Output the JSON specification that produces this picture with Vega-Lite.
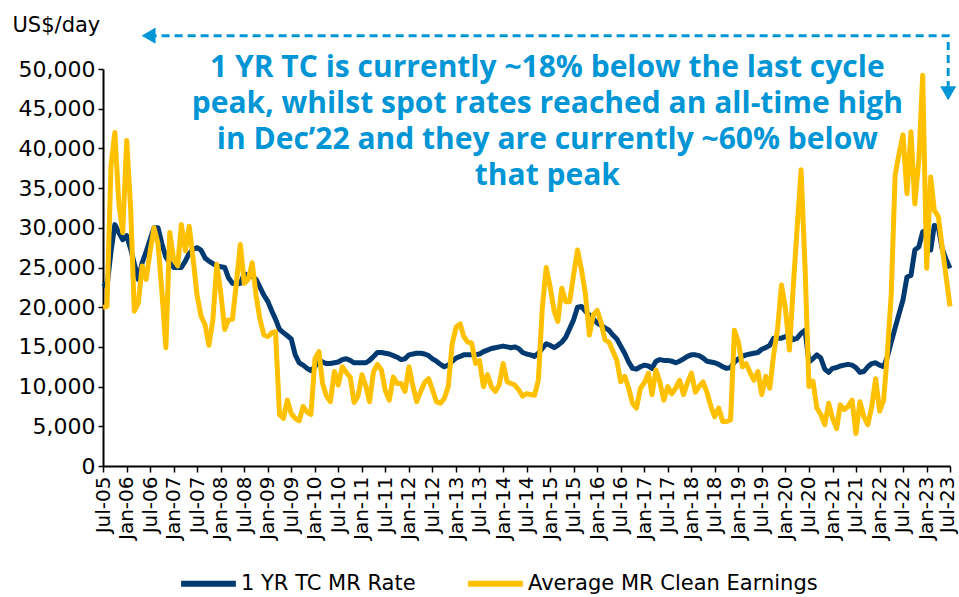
{
  "$schema": "https://vega.github.io/schema/vega-lite/v6.json",
  "autosize": {"type": "none"},
  "padding": {"left": 103, "top": 69, "right": 9, "bottom": 131},
  "width": 847,
  "height": 397,
  "background": "white",
  "config": {"view": {"stroke": null}, "font": "DejaVu Sans"},
  "datasets": {
    "rates": [
      {"d":"2005-07-01","tc":23000,"ce":20000},{"d":"2005-08-01","tc":22600,"ce":20100},{"d":"2005-09-01","tc":27000,"ce":37800},{"d":"2005-10-01","tc":30400,"ce":42000},{"d":"2005-11-01","tc":29400,"ce":33000},{"d":"2005-12-01","tc":28500,"ce":29400},
      {"d":"2006-01-01","tc":29000,"ce":41000},{"d":"2006-02-01","tc":27300,"ce":32300},{"d":"2006-03-01","tc":25500,"ce":19500},{"d":"2006-04-01","tc":23500,"ce":20500},{"d":"2006-05-01","tc":25600,"ce":25200},{"d":"2006-06-01","tc":27000,"ce":23500},
      {"d":"2006-07-01","tc":28500,"ce":27000},{"d":"2006-08-01","tc":30000,"ce":30000},{"d":"2006-09-01","tc":30000,"ce":28000},{"d":"2006-10-01","tc":28000,"ce":22000},{"d":"2006-11-01","tc":26300,"ce":14900},{"d":"2006-12-01","tc":25600,"ce":29400},
      {"d":"2007-01-01","tc":25000,"ce":26000},{"d":"2007-02-01","tc":25000,"ce":25200},{"d":"2007-03-01","tc":25000,"ce":30400},{"d":"2007-04-01","tc":25800,"ce":27100},{"d":"2007-05-01","tc":26800,"ce":30200},{"d":"2007-06-01","tc":27300,"ce":26000},
      {"d":"2007-07-01","tc":27500,"ce":21500},{"d":"2007-08-01","tc":27200,"ce":18900},{"d":"2007-09-01","tc":26200,"ce":17800},{"d":"2007-10-01","tc":25800,"ce":15200},{"d":"2007-11-01","tc":25500,"ce":18400},{"d":"2007-12-01","tc":25200,"ce":25400},
      {"d":"2008-01-01","tc":25100,"ce":21800},{"d":"2008-02-01","tc":25000,"ce":17200},{"d":"2008-03-01","tc":23700,"ce":18400},{"d":"2008-04-01","tc":23000,"ce":18500},{"d":"2008-05-01","tc":22900,"ce":23000},{"d":"2008-06-01","tc":23000,"ce":27900},
      {"d":"2008-07-01","tc":24200,"ce":23000},{"d":"2008-08-01","tc":24000,"ce":23500},{"d":"2008-09-01","tc":23900,"ce":25600},{"d":"2008-10-01","tc":23500,"ce":21500},{"d":"2008-11-01","tc":22500,"ce":18400},{"d":"2008-12-01","tc":21500,"ce":16500},
      {"d":"2009-01-01","tc":20700,"ce":16300},{"d":"2009-02-01","tc":19500,"ce":16800},{"d":"2009-03-01","tc":18500,"ce":16900},{"d":"2009-04-01","tc":17200,"ce":6500},{"d":"2009-05-01","tc":16800,"ce":6000},{"d":"2009-06-01","tc":16400,"ce":8300},
      {"d":"2009-07-01","tc":16000,"ce":6600},{"d":"2009-08-01","tc":14000,"ce":6000},{"d":"2009-09-01","tc":13000,"ce":5700},{"d":"2009-10-01","tc":12700,"ce":7500},{"d":"2009-11-01","tc":12300,"ce":6800},{"d":"2009-12-01","tc":12000,"ce":6500},
      {"d":"2010-01-01","tc":12500,"ce":13500},{"d":"2010-02-01","tc":13400,"ce":14400},{"d":"2010-03-01","tc":13100,"ce":10400},{"d":"2010-04-01","tc":12900,"ce":8800},{"d":"2010-05-01","tc":12900,"ce":8100},{"d":"2010-06-01","tc":13000,"ce":11900},
      {"d":"2010-07-01","tc":13100,"ce":10200},{"d":"2010-08-01","tc":13400,"ce":12500},{"d":"2010-09-01","tc":13500,"ce":11800},{"d":"2010-10-01","tc":13300,"ce":11200},{"d":"2010-11-01","tc":13000,"ce":8000},{"d":"2010-12-01","tc":13000,"ce":8800},
      {"d":"2011-01-01","tc":13000,"ce":11500},{"d":"2011-02-01","tc":13000,"ce":10000},{"d":"2011-03-01","tc":13300,"ce":8100},{"d":"2011-04-01","tc":13800,"ce":11900},{"d":"2011-05-01","tc":14300,"ce":12800},{"d":"2011-06-01","tc":14300,"ce":12100},
      {"d":"2011-07-01","tc":14200,"ce":9500},{"d":"2011-08-01","tc":14100,"ce":8300},{"d":"2011-09-01","tc":13900,"ce":11200},{"d":"2011-10-01","tc":13700,"ce":10400},{"d":"2011-11-01","tc":13400,"ce":10400},{"d":"2011-12-01","tc":13500,"ce":9400},
      {"d":"2012-01-01","tc":14000,"ce":12500},{"d":"2012-02-01","tc":14100,"ce":10000},{"d":"2012-03-01","tc":14200,"ce":8100},{"d":"2012-04-01","tc":14200,"ce":9400},{"d":"2012-05-01","tc":14100,"ce":10500},{"d":"2012-06-01","tc":13900,"ce":11000},
      {"d":"2012-07-01","tc":13500,"ce":9600},{"d":"2012-08-01","tc":13200,"ce":8100},{"d":"2012-09-01","tc":12800,"ce":7900},{"d":"2012-10-01","tc":12500,"ce":8500},{"d":"2012-11-01","tc":12700,"ce":10000},{"d":"2012-12-01","tc":13200,"ce":15400},
      {"d":"2013-01-01","tc":13600,"ce":17500},{"d":"2013-02-01","tc":13800,"ce":17900},{"d":"2013-03-01","tc":14000,"ce":16300},{"d":"2013-04-01","tc":14000,"ce":15600},{"d":"2013-05-01","tc":14000,"ce":15500},{"d":"2013-06-01","tc":14000,"ce":12900},
      {"d":"2013-07-01","tc":14100,"ce":13300},{"d":"2013-08-01","tc":14400,"ce":10000},{"d":"2013-09-01","tc":14600,"ce":11500},{"d":"2013-10-01","tc":14800,"ce":10000},{"d":"2013-11-01","tc":14900,"ce":9400},{"d":"2013-12-01","tc":15000,"ce":10200},
      {"d":"2014-01-01","tc":15100,"ce":12900},{"d":"2014-02-01","tc":15000,"ce":10600},{"d":"2014-03-01","tc":14900,"ce":10400},{"d":"2014-04-01","tc":15000,"ce":10200},{"d":"2014-05-01","tc":14800,"ce":9600},{"d":"2014-06-01","tc":14300,"ce":8800},
      {"d":"2014-07-01","tc":14100,"ce":9100},{"d":"2014-08-01","tc":14000,"ce":9000},{"d":"2014-09-01","tc":13800,"ce":8900},{"d":"2014-10-01","tc":14200,"ce":10800},{"d":"2014-11-01","tc":14800,"ce":20000},{"d":"2014-12-01","tc":15400,"ce":25000},
      {"d":"2015-01-01","tc":15200,"ce":22500},{"d":"2015-02-01","tc":14900,"ce":19500},{"d":"2015-03-01","tc":15200,"ce":18200},{"d":"2015-04-01","tc":15600,"ce":22400},{"d":"2015-05-01","tc":16200,"ce":20700},{"d":"2015-06-01","tc":17300,"ce":20700},
      {"d":"2015-07-01","tc":18400,"ce":24000},{"d":"2015-08-01","tc":20000,"ce":27200},{"d":"2015-09-01","tc":20100,"ce":24700},{"d":"2015-10-01","tc":19500,"ce":21700},{"d":"2015-11-01","tc":19000,"ce":16500},{"d":"2015-12-01","tc":18500,"ce":19000},
      {"d":"2016-01-01","tc":18000,"ce":19600},{"d":"2016-02-01","tc":17700,"ce":18000},{"d":"2016-03-01","tc":17400,"ce":15900},{"d":"2016-04-01","tc":17100,"ce":15600},{"d":"2016-05-01","tc":16500,"ce":14500},{"d":"2016-06-01","tc":16000,"ce":13300},
      {"d":"2016-07-01","tc":15100,"ce":10600},{"d":"2016-08-01","tc":14200,"ce":11300},{"d":"2016-09-01","tc":13100,"ce":9800},{"d":"2016-10-01","tc":12300,"ce":7900},{"d":"2016-11-01","tc":12200,"ce":7300},{"d":"2016-12-01","tc":12500,"ce":9800},
      {"d":"2017-01-01","tc":12700,"ce":10500},{"d":"2017-02-01","tc":12600,"ce":11700},{"d":"2017-03-01","tc":12300,"ce":9000},{"d":"2017-04-01","tc":13200,"ce":12100},{"d":"2017-05-01","tc":13400,"ce":10600},{"d":"2017-06-01","tc":13300,"ce":8300},
      {"d":"2017-07-01","tc":13300,"ce":10000},{"d":"2017-08-01","tc":13200,"ce":9100},{"d":"2017-09-01","tc":13000,"ce":9800},{"d":"2017-10-01","tc":13200,"ce":10800},{"d":"2017-11-01","tc":13500,"ce":9000},{"d":"2017-12-01","tc":13800,"ce":10500},
      {"d":"2018-01-01","tc":14000,"ce":11700},{"d":"2018-02-01","tc":14000,"ce":9300},{"d":"2018-03-01","tc":13900,"ce":10000},{"d":"2018-04-01","tc":13600,"ce":10600},{"d":"2018-05-01","tc":13200,"ce":9300},{"d":"2018-06-01","tc":13100,"ce":7500},
      {"d":"2018-07-01","tc":13000,"ce":6200},{"d":"2018-08-01","tc":12800,"ce":7300},{"d":"2018-09-01","tc":12500,"ce":5600},{"d":"2018-10-01","tc":12300,"ce":5600},{"d":"2018-11-01","tc":12400,"ce":5800},{"d":"2018-12-01","tc":13100,"ce":17100},
      {"d":"2019-01-01","tc":13500,"ce":15600},{"d":"2019-02-01","tc":13800,"ce":12500},{"d":"2019-03-01","tc":14000,"ce":12900},{"d":"2019-04-01","tc":14100,"ce":11800},{"d":"2019-05-01","tc":14200,"ce":10800},{"d":"2019-06-01","tc":14300,"ce":11900},
      {"d":"2019-07-01","tc":14700,"ce":9000},{"d":"2019-08-01","tc":14900,"ce":11300},{"d":"2019-09-01","tc":15200,"ce":9800},{"d":"2019-10-01","tc":16100,"ce":14000},{"d":"2019-11-01","tc":16100,"ce":17300},{"d":"2019-12-01","tc":16100,"ce":22800},
      {"d":"2020-01-01","tc":16300,"ce":19800},{"d":"2020-02-01","tc":16500,"ce":14600},{"d":"2020-03-01","tc":15900,"ce":22500},{"d":"2020-04-01","tc":16100,"ce":30000},{"d":"2020-05-01","tc":16700,"ce":37300},{"d":"2020-06-01","tc":17100,"ce":25000},
      {"d":"2020-07-01","tc":13100,"ce":10000},{"d":"2020-08-01","tc":13500,"ce":10700},{"d":"2020-09-01","tc":14000,"ce":7300},{"d":"2020-10-01","tc":13600,"ce":6500},{"d":"2020-11-01","tc":12200,"ce":5200},{"d":"2020-12-01","tc":11800,"ce":7900},
      {"d":"2021-01-01","tc":12300,"ce":6000},{"d":"2021-02-01","tc":12400,"ce":4700},{"d":"2021-03-01","tc":12600,"ce":7700},{"d":"2021-04-01","tc":12700,"ce":7100},{"d":"2021-05-01","tc":12800,"ce":7500},{"d":"2021-06-01","tc":12700,"ce":8300},
      {"d":"2021-07-01","tc":12400,"ce":4100},{"d":"2021-08-01","tc":11800,"ce":8100},{"d":"2021-09-01","tc":11900,"ce":6200},{"d":"2021-10-01","tc":12500,"ce":5200},{"d":"2021-11-01","tc":12900,"ce":7500},{"d":"2021-12-01","tc":13000,"ce":11000},
      {"d":"2022-01-01","tc":12700,"ce":6900},{"d":"2022-02-01","tc":12500,"ce":8300},{"d":"2022-03-01","tc":13700,"ce":14000},{"d":"2022-04-01","tc":15600,"ce":21700},{"d":"2022-05-01","tc":17400,"ce":36600},{"d":"2022-06-01","tc":19200,"ce":39400},
      {"d":"2022-07-01","tc":20900,"ce":41700},{"d":"2022-08-01","tc":23800,"ce":34300},{"d":"2022-09-01","tc":24000,"ce":42100},{"d":"2022-10-01","tc":27200,"ce":33000},{"d":"2022-11-01","tc":27600,"ce":38500},{"d":"2022-12-01","tc":29500,"ce":49200},
      {"d":"2023-01-01","tc":29700,"ce":24900},{"d":"2023-02-01","tc":27200,"ce":36400},{"d":"2023-03-01","tc":30300,"ce":32200},{"d":"2023-04-01","tc":30100,"ce":31400},{"d":"2023-05-01","tc":27400,"ce":27600},{"d":"2023-06-01","tc":26000,"ce":23800},
      {"d":"2023-07-01","tc":24900,"ce":20100}
    ],
    "arrow": [
      {"k": 0, "d": "2006-06-20", "v": 54200},
      {"k": 1, "d": "2023-06-17", "v": 54200},
      {"k": 2, "d": "2023-06-17", "v": 47300}
    ],
    "headLeft": [{"d": "2006-06-20", "v": 54200}],
    "headDown": [{"d": "2023-06-17", "v": 46950}],
    "note": [
      {"d": "2014-12-10", "v": 49000, "t": "1 YR TC is currently ~18% below the last cycle\npeak, whilst spot rates reached an all-time high\nin Dec’22 and they are currently ~60% below\nthat peak"}
    ]
  },
  "encoding": {
    "x": {
      "field": "d", "type": "temporal",
      "scale": {"type": "utc", "domain": [{"year": 2005, "month": 7, "date": 1, "utc": true}, {"year": 2023, "month": 7, "date": 1, "utc": true}], "nice": false},
      "axis": {
        "title": null,
        "labelExpr": "utcFormat(datum.value, '%b-%y')",
        "values": [
          {"year":2005,"month":7,"date":1,"utc":true},{"year":2006,"month":1,"date":1,"utc":true},{"year":2006,"month":7,"date":1,"utc":true},
          {"year":2007,"month":1,"date":1,"utc":true},{"year":2007,"month":7,"date":1,"utc":true},{"year":2008,"month":1,"date":1,"utc":true},
          {"year":2008,"month":7,"date":1,"utc":true},{"year":2009,"month":1,"date":1,"utc":true},{"year":2009,"month":7,"date":1,"utc":true},
          {"year":2010,"month":1,"date":1,"utc":true},{"year":2010,"month":7,"date":1,"utc":true},{"year":2011,"month":1,"date":1,"utc":true},
          {"year":2011,"month":7,"date":1,"utc":true},{"year":2012,"month":1,"date":1,"utc":true},{"year":2012,"month":7,"date":1,"utc":true},
          {"year":2013,"month":1,"date":1,"utc":true},{"year":2013,"month":7,"date":1,"utc":true},{"year":2014,"month":1,"date":1,"utc":true},
          {"year":2014,"month":7,"date":1,"utc":true},{"year":2015,"month":1,"date":1,"utc":true},{"year":2015,"month":7,"date":1,"utc":true},
          {"year":2016,"month":1,"date":1,"utc":true},{"year":2016,"month":7,"date":1,"utc":true},{"year":2017,"month":1,"date":1,"utc":true},
          {"year":2017,"month":7,"date":1,"utc":true},{"year":2018,"month":1,"date":1,"utc":true},{"year":2018,"month":7,"date":1,"utc":true},
          {"year":2019,"month":1,"date":1,"utc":true},{"year":2019,"month":7,"date":1,"utc":true},{"year":2020,"month":1,"date":1,"utc":true},
          {"year":2020,"month":7,"date":1,"utc":true},{"year":2021,"month":1,"date":1,"utc":true},{"year":2021,"month":7,"date":1,"utc":true},
          {"year":2022,"month":1,"date":1,"utc":true},{"year":2022,"month":7,"date":1,"utc":true},{"year":2023,"month":1,"date":1,"utc":true},
          {"year":2023,"month":7,"date":1,"utc":true}
        ],
        "labelAngle": -90,
        "labelAlign": "right",
        "labelBaseline": "middle",
        "labelOffset": {"condition": {"test": "datum.index > 0.99", "value": -3}, "value": 0},
        "labelFont": "DejaVu Sans",
        "labelFontSize": 20,
        "labelColor": "#000000",
        "labelPadding": 4,
        "labelOverlap": false,
        "labelFlush": false,
        "grid": false,
        "domainColor": "#000000",
        "domainWidth": 2,
        "tickColor": "#000000",
        "tickWidth": 1.5,
        "tickSize": 6
      }
    },
    "y": {
      "field": "v", "type": "quantitative",
      "scale": {"domain": [0, 50000], "nice": false, "zero": true},
      "axis": {
        "title": "US$/day",
        "titleAngle": 0,
        "titleAlign": "left",
        "titleBaseline": "middle",
        "titleX": -91,
        "titleY": -44,
        "titleFont": "DejaVu Sans",
        "titleFontSize": 21,
        "titleFontWeight": "normal",
        "titleColor": "#000000",
        "values": [0, 5000, 10000, 15000, 20000, 25000, 30000, 35000, 40000, 45000, 50000],
        "labelExpr": "format(datum.value, ',.0f')",
        "labelFont": "DejaVu Sans",
        "labelFontSize": 22,
        "labelColor": "#000000",
        "labelPadding": 3,
        "grid": false,
        "domainColor": "#000000",
        "domainWidth": 2,
        "tickColor": "#000000",
        "tickWidth": 1.5,
        "tickSize": 5
      }
    }
  },
  "layer": [
    {
      "data": {"name": "rates"},
      "transform": [{"fold": ["tc", "ce"], "as": ["s", "v"]}],
      "mark": {"type": "line", "strokeWidth": 5, "strokeJoin": "round", "clip": false},
      "encoding": {
        "color": {
          "field": "s", "type": "nominal",
          "scale": {"domain": ["tc", "ce"], "range": ["#003A70", "#FFC000"]},
          "legend": {
            "title": null,
            "orient": "none",
            "legendX": 75,
            "legendY": 484,
            "direction": "horizontal",
            "labelExpr": "datum.value == 'tc' ? '1 YR TC MR Rate' : 'Average MR Clean Earnings'",
            "symbolType": "stroke",
            "symbolStrokeWidth": 6,
            "symbolSize": 3000,
            "labelFont": "DejaVu Sans",
            "labelFontSize": 21,
            "labelColor": "#000000",
            "labelOffset": 2,
            "labelLimit": 500,
            "columnPadding": 40
          }
        }
      }
    },
    {
      "data": {"name": "arrow"},
      "mark": {"type": "line", "color": "#0096D6", "strokeWidth": 3, "strokeDash": [8, 5], "clip": false},
      "encoding": {
        "order": {"field": "k", "type": "quantitative"}
      }
    },
    {
      "data": {"name": "headLeft"},
      "mark": {"type": "point", "shape": "triangle-left", "filled": true, "color": "#0096D6", "size": 260, "opacity": 1, "clip": false},
      "encoding": {}
    },
    {
      "data": {"name": "headDown"},
      "mark": {"type": "point", "shape": "triangle-down", "filled": true, "color": "#0096D6", "size": 260, "opacity": 1, "clip": false},
      "encoding": {}
    },
    {
      "data": {"name": "note"},
      "mark": {"type": "text", "font": "Open Sans", "fontWeight": "bold", "fontSize": 30, "lineHeight": 36, "lineBreak": "\n", "align": "center", "baseline": "alphabetic", "color": "#0096D6", "clip": false},
      "encoding": {
        "text": {"field": "t", "type": "nominal"}
      }
    }
  ]
}
